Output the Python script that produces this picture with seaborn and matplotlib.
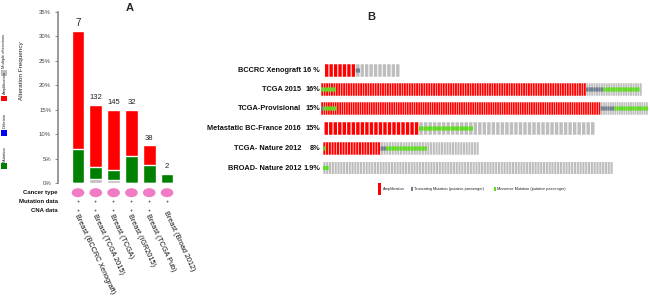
import numpy as np
import pandas as pd
import matplotlib
matplotlib.use("Agg")
import matplotlib.pyplot as plt
import matplotlib.transforms as mtransforms
from matplotlib.patches import Ellipse, Rectangle
import seaborn as sns

# ---------------- Panel A data ----------------
studies_a = ["Breast (BCCRC Xenograft)", "Breast (TCGA 2015)", "Breast (TCGA)",
             "Breast (IGR2015)", "Breast (TCGA Pub)", "Breast (Broad 2012)"]
multiple_pct = [0.0, 0.8, 0.7, 0.0, 0.0, 0.0]
mutation_pct = [7.0, 2.5, 1.9, 5.5, 3.7, 1.9]
amplification_pct = [24.0, 12.7, 12.4, 9.5, 4.0, 0.0]
altered_cases = ["7", "132", "145", "32", "38", "2"]
mutation_data = ["+", "+", "+", "+", "+", "+"]
cna_data = ["+", "+", "+", "+", "+", ""]
y_ticks = [0, 5, 10, 15, 20, 25, 30, 35]
legend_a = ["Multiple alterations", "Amplification", "Deletion", "Mutation"]

# ---------------- Panel B data ----------------
studies_b = ["BCCRC Xenograft", "TCGA 2015", "TCGA-Provisional",
             "Metastatic BC-France 2016", "TCGA- Nature 2012", "BROAD- Nature 2012"]
freq_b = ["16 %", "16%", "15%", "15%", "8%", "1.9%"]
amp_trunc_n = [0, 0, 1, 0, 0, 0]
amp_missense_n = [0, 6, 6, 0, 1, 0]
amp_only_n = [7, 103, 117, 21, 20, 0]
trunc_n = [1, 7, 6, 0, 2, 0]
missense_n = [0, 15, 15, 12, 15, 2]
unaltered_n = [9, 1, 0, 27, 19, 101]
legend_b = ["Amplification", "Truncating Mutation (putative passenger)",
            "Missense Mutation (putative passenger)"]

# ---------------- style ----------------
RED = "#FF0000"
GREEN_A = "#008000"
BLUE = "#0000FF"
GRAY = "#BEBEBE"
MIS = "#5EDC1F"
TRUNC = "#708090"
PINK = "#F07CC6"

sns.set_theme(style="white")
plt.rcParams["font.family"] = ["Liberation Sans", "DejaVu Sans"]

W, H = 650, 297
fig = plt.figure(figsize=(W / 100, H / 100), dpi=100)

def fx(x):
    return x / W

def fy(y):
    return 1 - y / H

# ---------------- Panel A ----------------
axL, axR, axT, axB = 58, 177, 11.7, 183
axA = fig.add_axes([fx(axL), fy(axB), (axR - axL) / W, (axB - axT) / H])

df = pd.DataFrame({
    "study": studies_a,
    "mult": multiple_pct,
    "mut": mutation_pct,
    "amp": amplification_pct,
})
df["mult_mut"] = df["mult"] + df["mut"]
df["total"] = df["mult_mut"] + df["amp"]

bw = 0.71
sns.barplot(data=df, x="study", y="total", color=RED, width=bw, saturation=1,
            errorbar=None, ax=axA)
sns.barplot(data=df, x="study", y="mult_mut", color=GREEN_A, width=bw, saturation=1,
            errorbar=None, ax=axA)
sns.barplot(data=df, x="study", y="mult", color=GRAY, width=bw, saturation=1,
            errorbar=None, ax=axA)

axA.set_xlim(-1.124, 5.56)
axA.set_ylim(0, 35)
axA.set_xticks([])
axA.set_xlabel("")
axA.set_ylabel("")
axA.set_yticks(y_ticks)
axA.set_yticklabels([f"{t}%" for t in y_ticks], fontsize=4.3, color="#444444")
axA.tick_params(axis="y", left=True, length=2.5, width=0.6, color="#777777", pad=2.5)
for s in ["top", "right", "bottom"]:
    axA.spines[s].set_visible(False)
axA.spines["left"].set_color("#888888")
axA.spines["left"].set_linewidth(1.2)

for i, (lab, tot) in enumerate(zip(altered_cases, df["total"])):
    axA.text(i, tot + 0.7, lab, ha="center", va="bottom",
             fontsize=7 if i == 0 else 5.5, color="#222222")

trans = mtransforms.blended_transform_factory(axA.transData, axA.transAxes)
ah = axB - axT
def ya(ypx):
    return -(ypx - axB) / ah

for i in range(len(studies_a)):
    e = Ellipse((i, ya(192.7)), width=bw, height=9 / ah, transform=trans,
                facecolor=PINK, edgecolor="none", clip_on=False)
    axA.add_patch(e)
    axA.text(i, ya(201.7), mutation_data[i], transform=trans, ha="center", va="center",
             fontsize=4, color="#222222", clip_on=False)
    if cna_data[i]:
        axA.text(i, ya(210.7), cna_data[i], transform=trans, ha="center", va="center",
                 fontsize=4, color="#222222", clip_on=False)
    ylab = 214.5 if cna_data[i] else 211.5
    axA.text(i - 0.12, ya(ylab), studies_a[i], transform=trans, rotation=-65,
             rotation_mode="anchor", ha="left", va="center", fontsize=5.2,
             color="#111111", clip_on=False)

for txt, ypx in zip(["Cancer type", "Mutation data", "CNA data"], [192.7, 201.7, 210.7]):
    fig.text(fx(58), fy(ypx), txt, ha="right", va="center", fontsize=4.3,
             fontweight="bold", color="#111111")

# left legend of panel A
leg_cols = [GRAY, RED, BLUE, GREEN_A]
sq_top = [70, 96, 130, 163]
for txt, col, top in zip(legend_a, leg_cols, sq_top):
    fig.add_artist(Rectangle((fx(1), fy(top + 5.5)), 6 / W, 5.5 / H, transform=fig.transFigure,
                             facecolor=col, edgecolor="none"))
    fig.text(fx(4.5), fy(top - 1.5), txt, rotation=90, ha="center", va="bottom",
             fontsize=3.0, color="#222222")

fig.text(fx(21), fy(70.5), "Alteration Frequency", rotation=90, ha="center", va="center",
         fontsize=4.6, color="#222222")
fig.text(fx(130), fy(8), "A", ha="center", va="center", fontsize=8, fontweight="bold")

# ---------------- Panel B ----------------
fig.text(fx(371), fy(17), "B", ha="center", va="center", fontsize=8, fontweight="bold")

row_x0 = [324.5, 321, 321, 324, 323, 323]
row_x1 = [400, 642, 648, 595, 479, 613]
row_yc = [70.5, 89.5, 108.5, 128.5, 148.5, 168]
tile_h = 12.5

for r in range(len(studies_b)):
    n_amp = amp_trunc_n[r] + amp_missense_n[r] + amp_only_n[r]
    n_non = trunc_n[r] + missense_n[r] + unaltered_n[r]
    base = ["amp"] * n_amp + ["none"] * n_non
    mark = (["trunc"] * amp_trunc_n[r] + ["mis"] * amp_missense_n[r] + [""] * amp_only_n[r]
            + ["trunc"] * trunc_n[r] + ["mis"] * missense_n[r] + [""] * unaltered_n[r])
    n = len(base)
    idx = np.arange(n)
    ax = fig.add_axes([fx(row_x0[r]), fy(row_yc[r] + tile_h / 2),
                       (row_x1[r] - row_x0[r]) / W, tile_h / H])
    ax.set_xlim(-0.5, n - 0.5)
    ax.set_ylim(0, 1)
    ax.axis("off")
    colors = [RED if b == "amp" else GRAY for b in base]
    bars = ax.bar(idx, np.ones(n), width=0.76, color=colors, linewidth=0)
    for b in bars:
        b.set_snap(False)
    mcol = {"trunc": TRUNC, "mis": MIS}
    mk = [i for i in range(n) if mark[i]]
    if mk:
        mbars = ax.bar(mk, [1 / 3] * len(mk), bottom=1 / 3, width=0.95,
                       color=[mcol[mark[i]] for i in mk], linewidth=0)
        for b in mbars:
            b.set_snap(False)
    fig.text(fx(301), fy(row_yc[r]), studies_b[r], ha="right", va="center",
             fontsize=5.3, fontweight="bold", color="#111111")
    fig.text(fx(320), fy(row_yc[r]), freq_b[r], ha="right", va="center",
             fontsize=5.3, fontweight="bold", color="#111111")

# legend of panel B
fig.add_artist(Rectangle((fx(378), fy(195)), 3 / W, 12 / H, transform=fig.transFigure,
                         facecolor=RED, edgecolor="none"))
fig.text(fx(383), fy(189), legend_b[0], ha="left", va="center", fontsize=2.8, color="#222222")
fig.add_artist(Rectangle((fx(411), fy(190.5)), 2 / W, 3.5 / H, transform=fig.transFigure,
                         facecolor=TRUNC, edgecolor="none"))
fig.text(fx(414.5), fy(189), legend_b[1], ha="left", va="center", fontsize=2.8, color="#222222")
fig.add_artist(Rectangle((fx(494), fy(190.5)), 2 / W, 3.5 / H, transform=fig.transFigure,
                         facecolor=MIS, edgecolor="none"))
fig.text(fx(497.5), fy(189), legend_b[2], ha="left", va="center", fontsize=2.8, color="#222222")

fig.savefig("out.png", dpi=100)
